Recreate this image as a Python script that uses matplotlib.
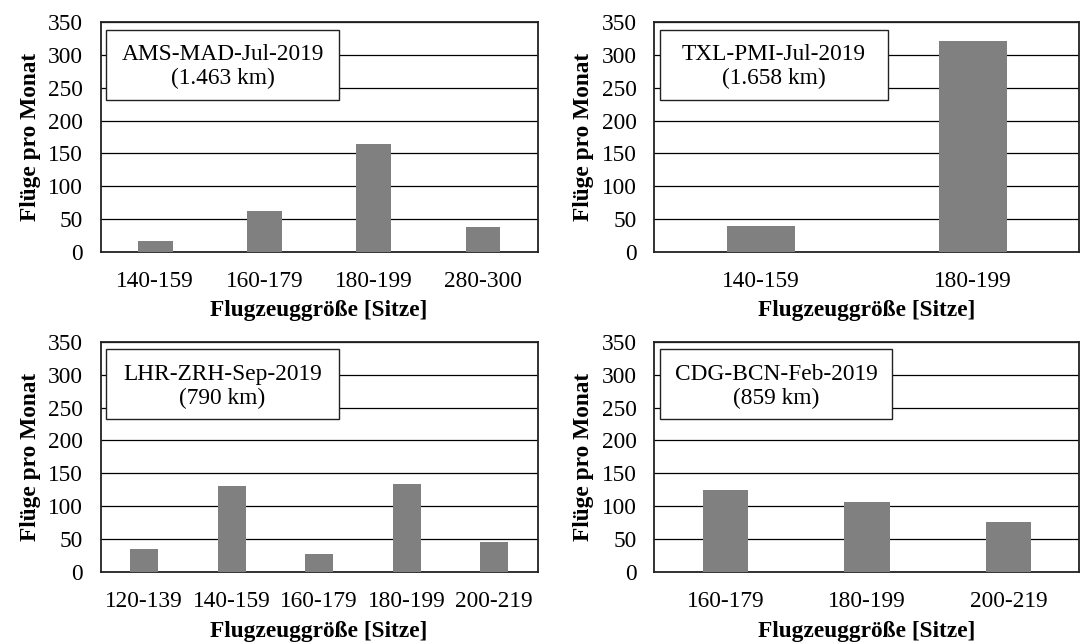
import matplotlib.pyplot as plt
from matplotlib.patches import Rectangle
import numpy as np

plt.rcParams['font.family'] = ['Liberation Serif', 'DejaVu Serif']

# Data
routes = ['AMS-MAD-Jul-2019', 'TXL-PMI-Jul-2019', 'LHR-ZRH-Sep-2019', 'CDG-BCN-Feb-2019']
distances = ['(1.463 km)', '(1.658 km)', '(790 km)', '(859 km)']

sizes_ams = ['140-159', '160-179', '180-199', '280-300']
flights_ams = [16, 62, 164, 37]

sizes_txl = ['140-159', '180-199']
flights_txl = [39, 321]

sizes_lhr = ['120-139', '140-159', '160-179', '180-199', '200-219']
flights_lhr = [35, 130, 28, 133, 45]

sizes_cdg = ['160-179', '180-199', '200-219']
flights_cdg = [125, 107, 76]

panels = [
    (sizes_ams, flights_ams),
    (sizes_txl, flights_txl),
    (sizes_lhr, flights_lhr),
    (sizes_cdg, flights_cdg),
]

# axes positions [left, bottom, width, height] in figure fraction
positions = [
    [0.0932, 0.6092, 0.4046, 0.3562],
    [0.6060, 0.6092, 0.3935, 0.3562],
    [0.0932, 0.1118, 0.4046, 0.3576],
    [0.6060, 0.1118, 0.3935, 0.3576],
]
box_widths = [0.533, 0.536, 0.532, 0.547]

fs = 16.8
fig = plt.figure(figsize=(10.8, 6.44), dpi=100)

for i, (sizes, flights) in enumerate(panels):
    ax = fig.add_axes(positions[i])
    x = np.arange(len(sizes))
    ax.bar(x, flights, width=0.32, color='#808080', zorder=3)
    ax.set_xlim(-0.5, len(sizes) - 0.5)
    ax.set_ylim(0, 350)
    ax.set_yticks(np.arange(0, 351, 50))
    ax.set_xticks(x)
    ax.set_xticklabels(sizes)
    ax.tick_params(axis='both', length=0, labelsize=fs)
    ax.tick_params(axis='y', pad=13)
    ax.tick_params(axis='x', pad=14)
    ax.grid(True, axis='y', color='black', linewidth=0.9, zorder=0)
    for s in ax.spines.values():
        s.set_color('#222222')
        s.set_linewidth(1.3)
    ax.set_ylabel('Flüge pro Monat', fontsize=fs, fontweight='bold', labelpad=5)
    ax.set_xlabel('Flugzeuggröße [Sitze]', fontsize=fs, fontweight='bold', labelpad=6)

    # route label box
    bw = box_widths[i]
    ax.add_patch(Rectangle((0.013, 0.663), bw, 0.305, transform=ax.transAxes,
                           facecolor='white', edgecolor='#222222', linewidth=1.0,
                           zorder=4))
    ax.text(0.013 + bw / 2, 0.806, routes[i] + '\n' + distances[i],
            transform=ax.transAxes, ha='center', va='center', fontsize=fs,
            linespacing=1.15, zorder=5)

plt.savefig('out.png', dpi=100)
